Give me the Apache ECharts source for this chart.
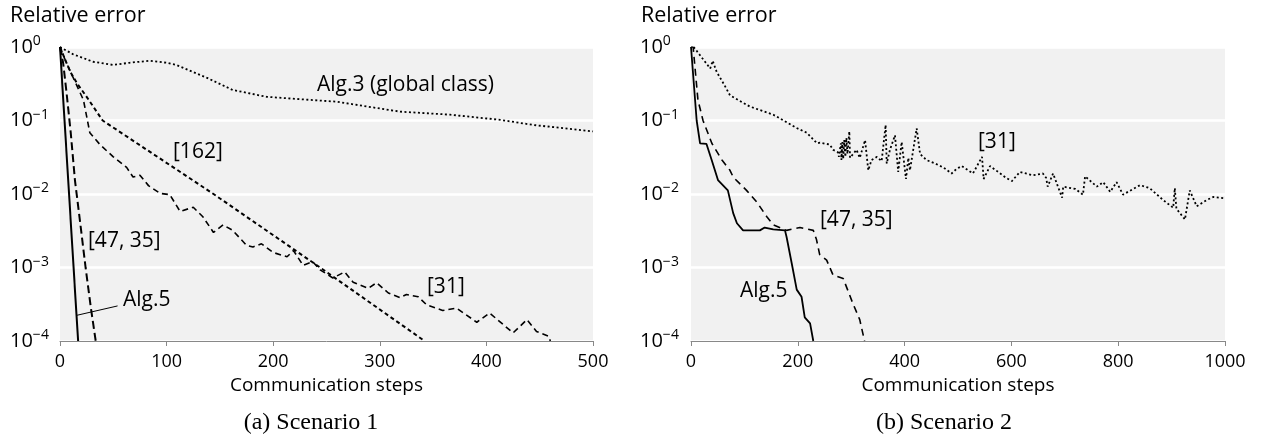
<!DOCTYPE html>
<html>
<head>
<meta charset="utf-8">
<script src="https://cdn.jsdelivr.net/npm/echarts@6/dist/echarts.min.js"></script>
<style>html,body{margin:0;padding:0;background:#fff;}#c{width:1262px;height:444px;}</style>
</head>
<body>
<div id="c"></div>
<script>
// ---- Scenario 1 (left) : [step, relative error]
const s1_alg5 = [[0,1],[17,0.0001]];
const s1_ref4735 = [[0,1],[3,0.6],[6,0.25],[10,0.07],[14,0.0155],[19,0.004],[24,0.001],[29,0.00028],[33.5,0.0001]];
const s1_ref162 = [[0,1],[5,0.66],[10,0.45],[16,0.32],[25,0.21],[40,0.1],[144,0.01],[244,0.001],[342,0.0001]];
const s1_ref31 = [[0,1],[5,0.66],[14,0.34],[22,0.19],[28,0.068],[37.5,0.047],[50,0.032],[62.5,0.023],[68.5,0.017],[75,0.018],[83,0.013],[94,0.0102],[103,0.0098],[112.6,0.0058],[125,0.0066],[134,0.0049],[144,0.003],[153,0.0038],[162,0.0032],[175,0.002],[181,0.0019],[189,0.0021],[200,0.0016],[213,0.0014],[219,0.0017],[228,0.00107],[237,0.0012],[244,0.00093],[256,0.00072],[267,0.00087],[275,0.00063],[289,0.00052],[297,0.00062],[308,0.00045],[319,0.00039],[325,0.00043],[336,0.0004],[344,0.00031],[359,0.00026],[372,0.00028],[391,0.00018],[403,0.00024],[425,0.000129],[438,0.000195],[447,0.000135],[458,0.000117],[460,0.0001]];
const s1_alg3 = [[0,1],[12,0.8],[31,0.63],[50,0.57],[65,0.61],[84,0.65],[100,0.61],[109,0.57],[138,0.38],[162,0.26],[194,0.21],[225,0.195],[260,0.18],[288,0.155],[319,0.132],[366,0.12],[413,0.102],[444,0.087],[500,0.071]];
const s1_leader = [[16,0.000224],[54,0.0003]];

// ---- Scenario 2 (right)
const s2_alg5 = [[0,1],[1,1],[10.6,0.1],[17,0.049],[29,0.048],[38.7,0.029],[50.5,0.0155],[69,0.0112],[79,0.0055],[86,0.004],[97.5,0.0032],[129,0.0032],[138,0.0035],[154,0.0033],[176,0.0032],[179,0.0026],[188.5,0.00115],[198,0.0005],[207,0.0004],[213,0.00021],[223,0.000174],[229,0.0001]];
const s2_ref4735 = [[0,1],[4,1],[13,0.19],[22.5,0.1],[39,0.049],[58,0.029],[73,0.021],[79,0.017],[104,0.0112],[123,0.0078],[142,0.0049],[154,0.0038],[179,0.0032],[204,0.0035],[229,0.0032],[235,0.0024],[241,0.0015],[254,0.00126],[266,0.00079],[285,0.00071],[302,0.00034],[316,0.000195],[325,0.0001]];
const s2_ref31 = [[5,1],[36,0.51],[40.6,0.65],[48,0.46],[63,0.30],[73,0.22],[110,0.155],[154,0.12],[198,0.079],[217,0.068],[236,0.049],[241.6,0.05],[260,0.047],[266,0.04],[275,0.037],[277,0.032],[280.7,0.049],[281.6,0.029],[283.5,0.051],[285,0.030],[287,0.054],[289,0.032],[291,0.058],[293,0.035],[296.5,0.071],[297.8,0.031],[310,0.04],[316,0.031],[326,0.054],[332,0.021],[338,0.029],[348,0.032],[357,0.028],[364.5,0.087],[366.5,0.026],[372.6,0.04],[382,0.063],[388,0.02],[394.5,0.051],[402.6,0.016],[407,0.031],[410,0.021],[422.6,0.078],[429,0.035],[441,0.029],[457,0.026],[472.5,0.023],[488,0.019],[497.5,0.022],[507,0.024],[528,0.019],[545,0.032],[548,0.016],[560,0.024],[575,0.02],[590,0.0166],[601,0.015],[616,0.02],[640,0.018],[659,0.019],[665,0.0166],[668,0.0126],[678,0.019],[695,0.0089],[697,0.0126],[720,0.0117],[734,0.0098],[738,0.0174],[760,0.0126],[772,0.0145],[785,0.0107],[797,0.0145],[809,0.0098],[841,0.0132],[859,0.012],[884,0.0083],[903,0.0065],[906,0.012],[909,0.0063],[925,0.0045],[934,0.0112],[947,0.0068],[966,0.0083],[978,0.0091],[1000,0.0087]];

// ---- axis texts
const yTitle = 'Relative error';
const xTitle = 'Communication steps';
const captions = ['(a) Scenario 1', '(b) Scenario 2'];

const SANS = '"Open Sans", Lato, sans-serif';
const SERIF = '"Liberation Serif", "DejaVu Serif", serif';

function yFmt(v){
  const e = Math.round(Math.log10(v));
  return '{b|10}{s|' + (e < 0 ? '\u2212' + (-e) : e) + '}';
}
function yAxis(idx, margin){
  return {
    gridIndex: idx, type: 'log', logBase: 10, min: 0.0001, max: 1,
    axisLine: {show: false}, axisTick: {show: false},
    splitLine: {show: true, lineStyle: {color: '#ffffff', width: 2.5}},
    axisLabel: {
      formatter: yFmt, align: 'left', margin: margin, color: '#000',
      rich: {
        b: {fontFamily: SANS, fontSize: 20, color: '#000', lineHeight: 25},
        s: {fontFamily: SANS, fontSize: 14, color: '#000', verticalAlign: 'top', lineHeight: 15}
      }
    }
  };
}
function xAxis(idx, max, interval){
  return {
    gridIndex: idx, type: 'value', min: 0, max: max, interval: interval,
    name: xTitle, nameLocation: 'middle', nameGap: 35,
    nameTextStyle: {fontFamily: SANS, fontSize: 19, color: '#000'},
    axisLine: {show: true, onZero: false, lineStyle: {color: '#888', width: 1}},
    axisTick: {show: true, length: 5, lineStyle: {color: '#888'}},
    splitLine: {show: false},
    axisLabel: {fontFamily: SANS, fontSize: 18, color: '#000', margin: 12, formatter: v => String(v)}
  };
}
function line(name, data, xi, type, width){
  return {
    name: name, type: 'line', xAxisIndex: xi, yAxisIndex: xi, data: data,
    showSymbol: false, symbol: 'none', clip: true, animation: false,
    lineStyle: {color: '#000', width: width, type: type, cap: 'butt'}
  };
}

const chart = echarts.init(document.getElementById('c'));
const lbl = (text, x, y) => ({type: 'text', left: x, top: y, style: {text: text, fontFamily: SANS, fontSize: 21, fill: '#000'}});
chart.setOption({
  animation: false,
  backgroundColor: '#fff',
  grid: [
    {left: 60, top: 47, width: 533, height: 294, show: true, backgroundColor: '#f1f1f1', borderWidth: 0},
    {left: 691, top: 47, width: 534, height: 294, show: true, backgroundColor: '#f1f1f1', borderWidth: 0}
  ],
  xAxis: [xAxis(0, 500, 100), xAxis(1, 1000, 200)],
  yAxis: [yAxis(0, 50), yAxis(1, 51)],
  series: [
    line('Alg.3', s1_alg3, 0, [2, 2.5], 1.8),
    line('[162]', s1_ref162, 0, [4, 3], 2),
    line('[31]', s1_ref31, 0, [6, 4], 1.6),
    line('[47, 35]', s1_ref4735, 0, [8, 4], 2),
    line('Alg.5', s1_alg5, 0, 'solid', 2),
    line('leader', s1_leader, 0, 'solid', 1),
    line('[31]', s2_ref31, 1, [2, 2.5], 1.8),
    line('[47, 35]', s2_ref4735, 1, [7, 5], 1.6),
    line('Alg.5', s2_alg5, 1, 'solid', 1.8)
  ],
  graphic: [
    {type: 'text', left: 10, top: 5, style: {text: yTitle, fontFamily: SANS, fontSize: 21.5, fill: '#000'}},
    {type: 'text', left: 641, top: 5, style: {text: yTitle, fontFamily: SANS, fontSize: 21.5, fill: '#000'}},
    lbl('Alg.3 (global class)', 317, 75),
    lbl('[162]', 173, 142),
    lbl('[47, 35]', 88, 231),
    lbl('Alg.5', 123, 290),
    lbl('[31]', 427, 277),
    lbl('[31]', 978, 132),
    lbl('[47, 35]', 820, 210),
    lbl('Alg.5', 740, 281),
    {type: 'text', x: 311, y: 423, style: {text: captions[0], fontFamily: SERIF, fontSize: 24, fill: '#000', align: 'center', verticalAlign: 'middle'}},
    {type: 'text', x: 944, y: 423, style: {text: captions[1], fontFamily: SERIF, fontSize: 24, fill: '#000', align: 'center', verticalAlign: 'middle'}}
  ]
});
</script>
</body>
</html>
